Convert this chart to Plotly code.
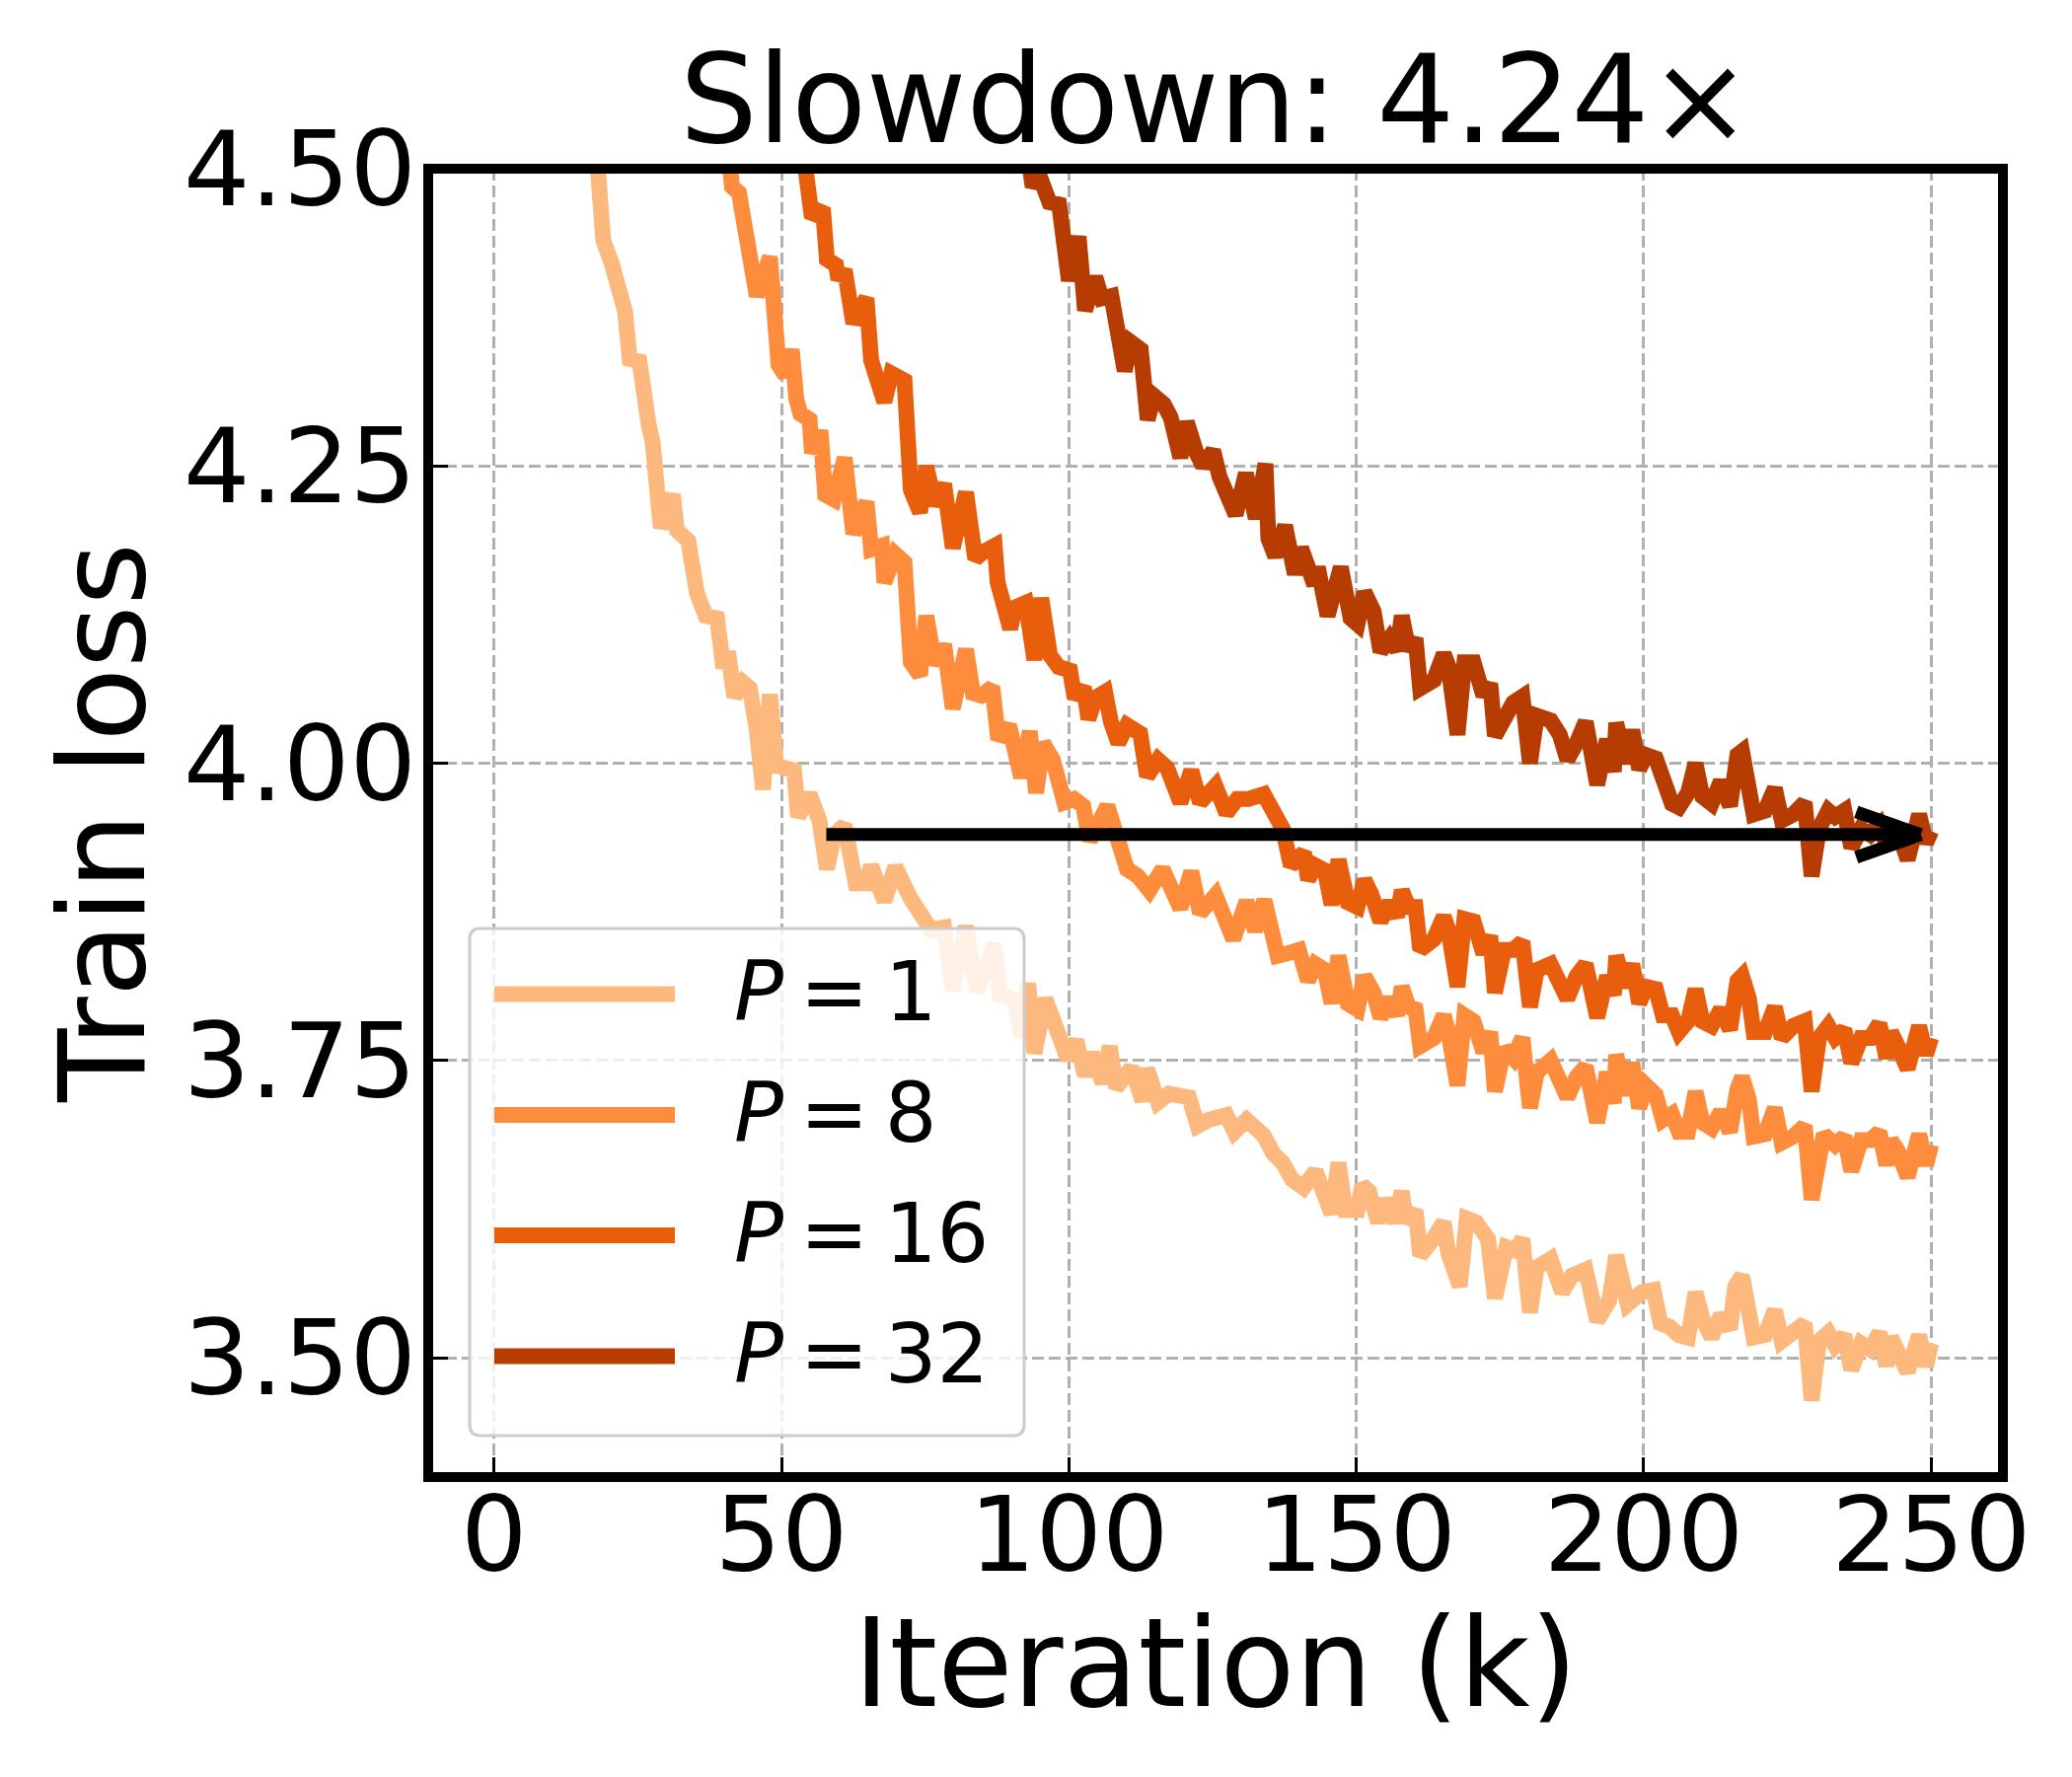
import plotly.graph_objects as go

# ---------------- data ----------------
p1_iter_k = [16.5, 18.3, 19.0, 20.5, 21.8, 22.8, 23.6, 25.3, 26.9, 27.6, 29.0, 31.1, 31.8, 33.8, 35.3,
             36.8, 38.8, 39.9, 40.7, 41.8, 43.3, 44.5, 45.7, 46.8, 48.0, 49.1, 52.2, 52.9, 54.9, 56.6,
             57.9, 59.2, 61.0, 62.0, 62.9, 64.8, 65.6, 67.9, 69.8, 72.5, 74.8, 76.0, 78.3, 79.8, 82.1,
             84.0, 87.1, 87.9, 90.6, 91.7, 92.9, 94.0, 95.9, 97.8, 99.8, 101.3, 102.8, 104.0, 105.9,
             107.1, 108.2, 110.9, 112.8, 113.6, 115.5, 117.4, 120.9, 122.4, 124.3, 127.4, 128.8, 130.9,
             133.9, 135.5, 137.2, 138.8, 140.8, 142.9, 145.7, 146.9, 148.1, 150.2, 151.0, 152.2, 153.8,
             155.0, 156.7, 157.9, 158.7, 160.3, 161.1, 163.1, 165.2, 166.0, 168.0, 169.2, 170.8, 172.9,
             174.1, 176.1, 177.7, 178.9, 180.2, 181.4, 183.8, 185.8, 187.5, 189.9, 191.9, 194.0, 195.2,
             197.2, 199.6, 201.7, 202.9, 204.5, 206.1, 207.7, 209.0, 210.2, 211.8, 213.4, 215.0, 215.9,
             217.1, 218.3, 219.1, 221.1, 222.8, 224.0, 226.4, 228.0, 229.2, 230.5, 232.1, 233.3, 234.9,
             236.1, 237.8, 239.4, 241.0, 242.2, 243.0, 244.2, 245.9, 247.9, 249.1, 250.0]
p1_loss = [4.60, 4.50, 4.44, 4.42, 4.395, 4.38, 4.34, 4.338, 4.285, 4.27, 4.198, 4.226, 4.196, 4.187, 4.143,
           4.124, 4.122, 4.080, 4.094, 4.056, 4.068, 4.063, 4.028, 3.978, 4.058, 3.998, 3.994, 3.955, 3.974, 3.952,
           3.911, 3.940, 3.948, 3.925, 3.899, 3.899, 3.914, 3.884, 3.913, 3.886, 3.870, 3.860, 3.862, 3.809, 3.863,
           3.808, 3.848, 3.805, 3.801, 3.770, 3.815, 3.756, 3.802, 3.774, 3.751, 3.767, 3.737, 3.756, 3.731,
           3.762, 3.727, 3.744, 3.716, 3.743, 3.715, 3.722, 3.719, 3.695, 3.700, 3.704, 3.690, 3.700,
           3.687, 3.672, 3.664, 3.650, 3.643, 3.657, 3.621, 3.664, 3.624, 3.624, 3.645, 3.640, 3.614,
           3.633, 3.614, 3.640, 3.614, 3.624, 3.586, 3.598, 3.614, 3.588, 3.560, 3.617, 3.614, 3.600,
           3.550, 3.593, 3.590, 3.600, 3.538, 3.576, 3.583, 3.555, 3.569, 3.574, 3.531, 3.548, 3.586,
           3.545, 3.555, 3.557, 3.529, 3.526, 3.519, 3.517, 3.555, 3.533, 3.517, 3.536, 3.524, 3.560,
           3.569, 3.538, 3.517, 3.519, 3.540, 3.514, 3.521, 3.529, 3.464, 3.514, 3.521, 3.510, 3.519,
           3.490, 3.512, 3.507, 3.521, 3.493, 3.517, 3.505, 3.488, 3.519, 3.493, 3.512]

p8_iter_k = [39.8, 41.4, 42.6, 44.1, 45.7, 48.0, 48.7, 49.5, 50.7, 51.8, 52.6, 53.3, 54.9, 55.3, 56.8,
             57.6, 59.1, 61.0, 62.5, 64.8, 65.6, 67.5, 67.9, 69.8, 71.4, 72.5, 74.1, 75.2, 76.7, 78.3,
             79.8, 82.1, 83.3, 84.8, 86.7, 87.7, 89.6, 91.7, 93.2, 94.3, 95.5, 97.2, 99.2, 100.9, 102.5,
             103.6, 106.7, 108.2, 110.1, 112.0, 114.0, 116.3, 117.4, 119.4, 121.3, 122.8, 125.5, 128.6,
             130.9, 132.4, 134.0, 136.3, 138.0, 140.0, 141.6, 142.9, 144.5, 145.7, 146.9, 148.5, 150.2,
             151.4, 153.0, 154.2, 155.8, 157.1, 157.9, 159.1, 160.3, 161.1, 163.5, 165.2, 166.0, 167.6,
             168.8, 170.4, 172.1, 173.3, 174.1, 175.7, 177.3, 178.9, 180.2, 181.4, 183.8, 185.4, 186.7,
             188.3, 189.9, 191.9, 193.6, 194.8, 195.2, 196.8, 198.0, 199.2, 200.4, 202.1, 203.3, 204.9,
             206.1, 207.7, 209.0, 210.2, 211.8, 213.4, 215.0, 216.3, 217.1, 218.3, 219.1, 221.1, 222.8,
             224.0, 226.0, 228.0, 229.2, 231.3, 233.3, 234.9, 236.1, 237.8, 239.4, 241.0, 242.2, 243.0,
             244.2, 245.9, 247.9, 249.1, 250.0]
p8_loss = [4.56, 4.485, 4.480, 4.428, 4.393, 4.426, 4.372, 4.335, 4.326, 4.348, 4.306, 4.294, 4.289, 4.261, 4.280,
           4.226, 4.222, 4.257, 4.193, 4.220, 4.180, 4.183, 4.152, 4.176, 4.169, 4.085, 4.074, 4.124, 4.083, 4.100,
           4.046, 4.096, 4.059, 4.057, 4.064, 4.020, 4.032, 3.988, 4.027, 3.975, 4.017, 4.003, 3.967, 3.970, 3.964,
           3.935, 3.964, 3.935, 3.911, 3.905, 3.893, 3.911, 3.896, 3.878, 3.909, 3.874, 3.889, 3.852,
           3.884, 3.859, 3.885, 3.838, 3.840, 3.843, 3.817, 3.831, 3.826, 3.798, 3.838, 3.798, 3.793,
           3.821, 3.807, 3.786, 3.802, 3.788, 3.812, 3.795, 3.793, 3.762, 3.769, 3.788, 3.774, 3.729,
           3.788, 3.783, 3.757, 3.774, 3.724, 3.760, 3.752, 3.769, 3.710, 3.740, 3.750, 3.731, 3.719,
           3.736, 3.745, 3.698, 3.740, 3.714, 3.755, 3.721, 3.748, 3.710, 3.729, 3.721, 3.700, 3.705,
           3.690, 3.690, 3.724, 3.698, 3.693, 3.707, 3.690, 3.726, 3.736, 3.717, 3.686, 3.688, 3.710,
           3.681, 3.686, 3.695, 3.633, 3.688, 3.679, 3.686, 3.657, 3.683, 3.683, 3.690, 3.662, 3.683,
           3.674, 3.652, 3.688, 3.662, 3.679]

p16_iter_k = [52.0, 55.3, 57.2, 57.9, 59.5, 59.9, 61.0, 62.5, 63.7, 64.8, 65.6, 66.8, 67.9, 69.1, 71.4,
              72.5, 74.1, 75.2, 76.7, 78.3, 79.8, 82.1, 83.7, 85.2, 87.1, 87.6, 89.8, 90.6, 92.5, 94.0,
              95.2, 96.7, 98.2, 100.2, 101.0, 102.6, 103.4, 104.6, 106.3, 107.3, 108.6, 110.1, 112.4,
              113.6, 115.5, 117.1, 119.4, 121.3, 122.8, 125.5, 127.4, 129.3, 131.3, 133.9, 136.3, 137.2,
              138.6, 140.9, 141.6, 142.9, 144.5, 145.7, 146.9, 148.5, 150.2, 151.4, 152.6, 154.2, 155.8,
              157.1, 157.9, 159.1, 160.3, 161.1, 163.5, 165.2, 166.0, 167.6, 168.8, 170.4, 172.1, 173.3,
              174.1, 175.7, 177.3, 178.9, 180.2, 181.4, 183.8, 185.4, 186.7, 188.3, 189.9, 191.9, 193.6,
              194.8, 195.2, 196.8, 198.0, 199.2, 200.4, 202.1, 203.3, 204.9, 206.1, 207.7, 209.0, 210.2,
              211.8, 213.4, 215.0, 216.3, 217.1, 218.3, 219.1, 221.1, 222.8, 224.0, 226.0, 228.0, 229.2,
              230.5, 232.1, 233.3, 234.9, 236.1, 237.8, 239.4, 241.0, 242.2, 243.0, 244.2, 245.9, 247.9,
              249.1, 250.0]
p16_loss = [4.58, 4.459, 4.467, 4.424, 4.419, 4.407, 4.415, 4.370, 4.383, 4.391, 4.339, 4.324, 4.304, 4.328, 4.322,
            4.230, 4.211, 4.250, 4.217, 4.235, 4.181, 4.228, 4.172, 4.178, 4.183, 4.152, 4.113, 4.131, 4.135, 4.087,
            4.139, 4.091, 4.081, 4.078, 4.055, 4.064, 4.037, 4.055, 4.060, 4.035, 4.017, 4.032, 4.025,
            3.989, 4.003, 3.996, 3.967, 3.994, 3.967, 3.981, 3.958, 3.970, 3.970, 3.974, 3.947, 3.945,
            3.914, 3.925, 3.902, 3.914, 3.910, 3.881, 3.919, 3.883, 3.879, 3.902, 3.890, 3.867, 3.883,
            3.871, 3.893, 3.879, 3.879, 3.843, 3.852, 3.871, 3.860, 3.812, 3.869, 3.867, 3.840, 3.855,
            3.807, 3.843, 3.843, 3.850, 3.795, 3.826, 3.831, 3.817, 3.802, 3.821, 3.831, 3.786, 3.821,
            3.805, 3.838, 3.812, 3.831, 3.798, 3.812, 3.810, 3.788, 3.788, 3.774, 3.783, 3.810, 3.783,
            3.779, 3.793, 3.776, 3.817, 3.821, 3.802, 3.774, 3.774, 3.795, 3.769, 3.779, 3.783, 3.724,
            3.769, 3.779, 3.769, 3.776, 3.748, 3.769, 3.769, 3.781, 3.752, 3.774, 3.762, 3.743, 3.779,
            3.755, 3.769]

p32_iter_k = [92.3, 93.7, 94.9, 96.6, 98.3, 100.0, 101.7, 102.8, 104.6, 105.7, 107.4, 108.5, 109.7, 110.8,
              112.5, 113.7, 114.8, 116.5, 117.7, 119.4, 120.5, 122.2, 123.3, 125.1, 126.2, 129.0, 130.8,
              132.5, 134.2, 134.7, 135.9, 137.6, 139.3, 140.4, 142.7, 143.3, 145.0, 147.3, 149.0, 150.2,
              151.4, 153.0, 154.2, 155.8, 157.1, 157.9, 159.1, 160.3, 161.1, 163.5, 165.2, 166.0, 167.6,
              168.8, 170.4, 172.1, 173.3, 174.1, 175.7, 177.3, 178.9, 180.2, 181.4, 183.8, 185.4, 186.7,
              188.3, 189.9, 191.9, 193.6, 194.8, 195.2, 196.8, 198.0, 199.2, 200.4, 202.1, 203.3, 204.9,
              206.1, 207.7, 209.0, 210.2, 211.8, 213.4, 215.0, 216.3, 217.1, 218.3, 219.1, 221.1, 222.8,
              224.0, 226.0, 228.0, 229.2, 230.5, 232.1, 233.3, 234.9, 236.1, 237.8, 239.4, 241.0, 242.2,
              243.0, 244.2, 245.9, 247.9, 249.1, 250.0]
p32_loss = [4.53, 4.485, 4.494, 4.472, 4.470, 4.406, 4.443, 4.381, 4.409, 4.391, 4.393, 4.350, 4.330, 4.354,
            4.348, 4.289, 4.309, 4.302, 4.291, 4.257, 4.287, 4.261, 4.250, 4.263, 4.241, 4.209, 4.244,
            4.206, 4.252, 4.189, 4.174, 4.200, 4.159, 4.181, 4.150, 4.165, 4.124, 4.165, 4.122, 4.117,
            4.144, 4.128, 4.094, 4.105, 4.095, 4.124, 4.095, 4.105, 4.063, 4.070, 4.092, 4.082, 4.024,
            4.085, 4.085, 4.057, 4.067, 4.023, 4.040, 4.051, 4.056, 4.000, 4.040, 4.036, 4.024, 4.003,
            4.017, 4.035, 3.982, 4.020, 3.993, 4.034, 4.000, 4.028, 3.995, 4.007, 4.004, 3.985, 3.966,
            3.963, 3.975, 4.000, 3.972, 3.966, 3.985, 3.964, 4.007, 4.010, 3.980, 3.957, 3.960, 3.979,
            3.952, 3.957, 3.967, 3.905, 3.945, 3.960, 3.955, 3.960, 3.929, 3.945, 3.940, 3.948, 3.932,
            3.945, 3.943, 3.919, 3.957, 3.933, 3.943]

series_labels = ["<i>P</i>\u2009=\u20091", "<i>P</i>\u2009=\u20098",
                 "<i>P</i>\u2009=\u200916", "<i>P</i>\u2009=\u200932"]
series_colors = ["#fdb97d", "#fd8d3c", "#e95e0d", "#b73c02"]

x_tick_vals = [0, 50, 100, 150, 200, 250]
y_tick_vals = [3.50, 3.75, 4.00, 4.25, 4.50]

title_text = "Slowdown: 4.24\u00d7"
x_title = "Iteration (k)"
y_title = "Train loss"

arrow_loss = 3.94      # loss level marked by the arrow
arrow_start_k = 57.8   # where P=1 reaches that level
arrow_end_k = 247.6    # where P=32 reaches it

# ---------------- layout geometry (pixels) ----------------
W, H = 2100, 1801
PL, PR, PT, PB = 434, 2030, 171, 1497
X0_PX, PX_PER_K = 500.7, 5.8264
Y350_PX, PX_PER_LOSS = 1376.0, 1205.2
x_range = [(PL - X0_PX) / PX_PER_K, (PR - X0_PX) / PX_PER_K]
y_range = [3.50 - (PB - Y350_PX) / PX_PER_LOSS, 4.5001]


def fx(px):
    return (px - PL) / (PR - PL)


def fy(py):
    return (PB - py) / (PB - PT)


FONT = "DejaVu Sans"
LINE_W = 16
all_k = [p1_iter_k, p8_iter_k, p16_iter_k, p32_iter_k]
all_loss = [p1_loss, p8_loss, p16_loss, p32_loss]

fig = go.Figure()
for k, loss, lab, col in zip(all_k, all_loss, series_labels, series_colors):
    fig.add_trace(go.Scatter(x=k, y=loss, mode="lines", name=lab, showlegend=False,
                             line=dict(color=col, width=LINE_W)))

shapes = []
# arrow (slowdown)
arm_dk = 62 / PX_PER_K
arm_dl = 23 / PX_PER_LOSS
for x0, y0, x1, y1 in [(arrow_start_k, arrow_loss, arrow_end_k, arrow_loss),
                       (arrow_end_k - arm_dk, arrow_loss + arm_dl, arrow_end_k + 0.6, arrow_loss),
                       (arrow_end_k - arm_dk, arrow_loss - arm_dl, arrow_end_k + 0.6, arrow_loss)]:
    shapes.append(dict(type="line", xref="x", yref="y", x0=x0, y0=y0, x1=x1, y1=y1,
                       line=dict(color="black", width=13), layer="above"))

# axes frame
shapes.append(dict(type="rect", xref="paper", yref="paper", x0=0, y0=0, x1=1, y1=1,
                   line=dict(color="black", width=10), fillcolor="rgba(0,0,0,0)", layer="above"))

# legend box (rounded)
bl, br, bt, bb = fx(476), fx(1038), fy(941), fy(1455)
rx, ry = 11 / (PR - PL), 11 / (PB - PT)
path = (f"M {bl+rx},{bt} L {br-rx},{bt} Q {br},{bt} {br},{bt-ry} L {br},{bb+ry} "
        f"Q {br},{bb} {br-rx},{bb} L {bl+rx},{bb} Q {bl},{bb} {bl},{bb+ry} "
        f"L {bl},{bt-ry} Q {bl},{bt} {bl+rx},{bt} Z")
shapes.append(dict(type="path", xref="paper", yref="paper", path=path,
                   fillcolor="rgba(255,255,255,0.8)", line=dict(color="#cccccc", width=3),
                   layer="above"))
legend_rows_px = [1007.5, 1130, 1252, 1374.5]
annotations = []
for row, lab, col in zip(legend_rows_px, series_labels, series_colors):
    shapes.append(dict(type="line", xref="paper", yref="paper", x0=fx(501), x1=fx(684),
                       y0=fy(row), y1=fy(row), line=dict(color=col, width=LINE_W), layer="above"))
    annotations.append(dict(xref="paper", yref="paper", x=fx(742), y=fy(row - 2),
                            xanchor="left", yanchor="middle", showarrow=False, text=lab,
                            font=dict(family=FONT, size=83, color="black")))

annotations.append(dict(xref="paper", yref="paper", x=0.5, y=fy(100.7), xanchor="center",
                        yanchor="middle", showarrow=False, text=title_text,
                        font=dict(family=FONT, size=124, color="black")))
annotations.append(dict(xref="paper", yref="paper", x=0.5, y=fy(1686), xanchor="center",
                        yanchor="middle", showarrow=False, text=x_title,
                        font=dict(family=FONT, size=124, color="black")))
annotations.append(dict(xref="paper", yref="paper", x=fx(104), y=0.5, xanchor="center",
                        yanchor="middle", showarrow=False, text=y_title, textangle=-90,
                        font=dict(family=FONT, size=122, color="black")))

axis_common = dict(showline=False, zeroline=False, showgrid=True, gridcolor="#b0b0b0",
                   gridwidth=3, griddash="12px,5px", ticks="inside", ticklen=20, tickwidth=3,
                   tickcolor="black", tickfont=dict(family=FONT, size=106, color="black"))

fig.update_layout(
    width=W, height=H, autosize=False,
    margin=dict(l=PL, r=W - PR, t=PT, b=H - PB, pad=0),
    paper_bgcolor="white", plot_bgcolor="white",
    xaxis=dict(range=x_range, tickmode="array", tickvals=x_tick_vals, ticklabelstandoff=-12,
               ticktext=[str(v) for v in x_tick_vals], **axis_common),
    yaxis=dict(range=y_range, tickmode="array", tickvals=y_tick_vals, ticklabelstandoff=11,
               ticktext=[f"{v:.2f}" for v in y_tick_vals], **axis_common),
    shapes=shapes, annotations=annotations, showlegend=False,
)

fig.write_html("out.html")
